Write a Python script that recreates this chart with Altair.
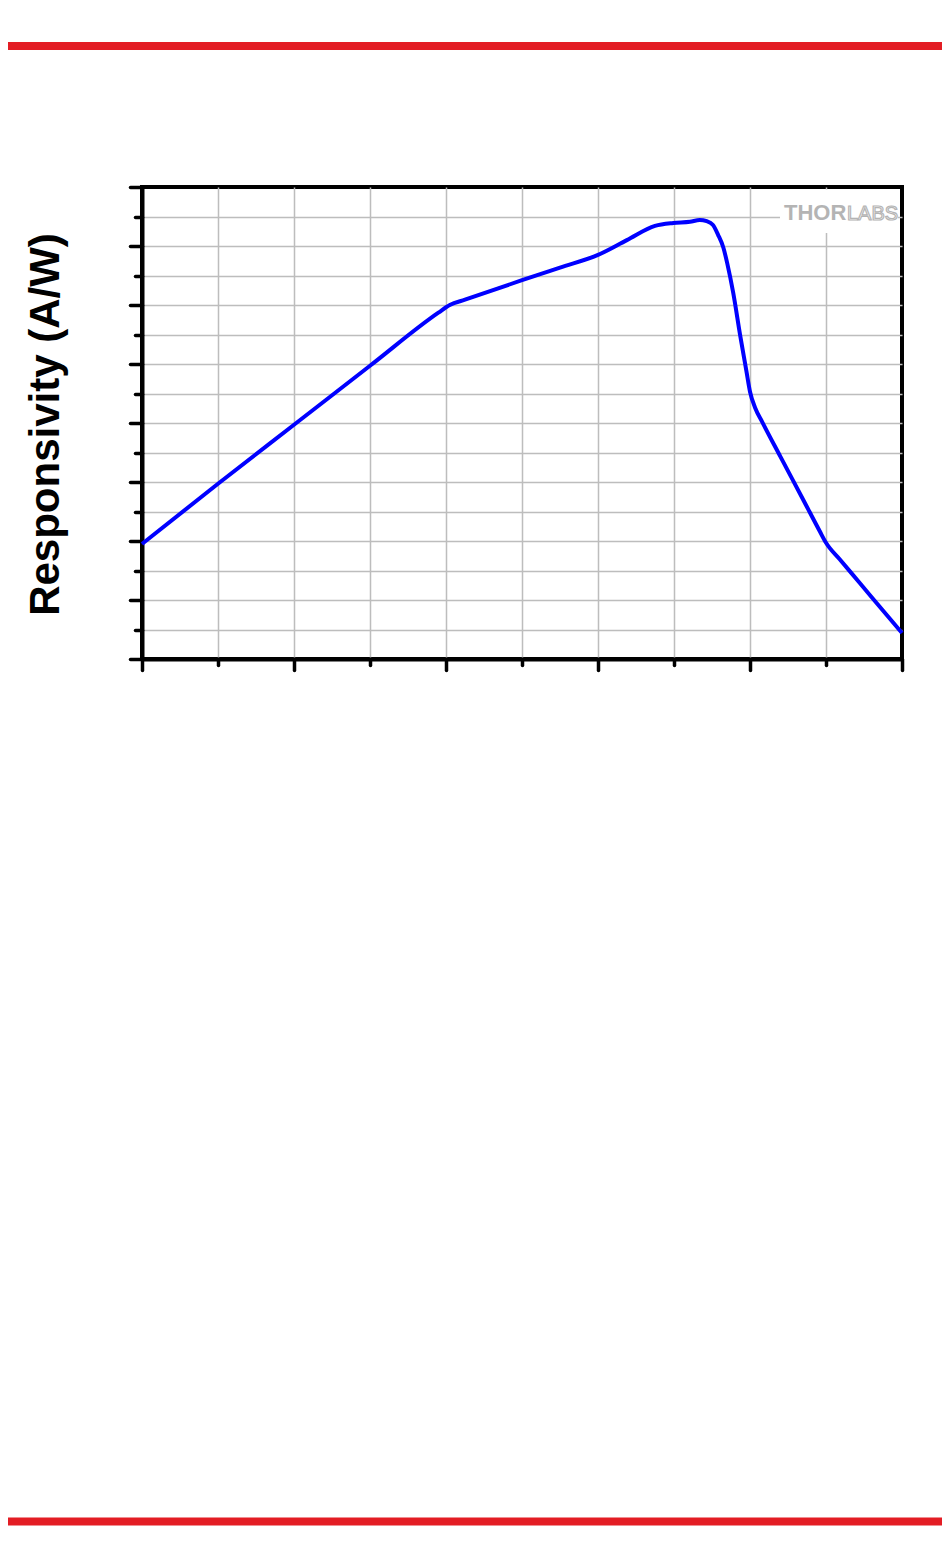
import altair as alt
import pandas as pd

# ---- data ----
wavelength_nm = [200, 300, 400, 500, 590, 605, 625, 700, 750, 800, 838, 875, 899, 921,
                 934, 943, 951, 958, 965, 970, 978, 987, 995, 1000, 1007, 1016, 1040,
                 1070, 1092, 1100, 1118, 1145, 1171, 1200]
responsivity_aw = [0.195, 0.297, 0.397, 0.497, 0.587, 0.600, 0.609, 0.642, 0.6635, 0.685, 0.710,
                   0.734, 0.739, 0.741, 0.744, 0.742, 0.736, 0.719, 0.697, 0.671,
                   0.620, 0.549, 0.490, 0.453, 0.425, 0.402, 0.343, 0.270, 0.216, 0.197,
                   0.169, 0.128, 0.088, 0.044]
x_ticks = list(range(200, 1201, 100))
y_ticks = [round(i * 0.05, 2) for i in range(17)]
y_title = "Responsivity (A/W)"
logo_bold = "THOR"
logo_outline = "LABS"

df = pd.DataFrame({"wavelength": wavelength_nm, "responsivity": responsivity_aw})
one = pd.DataFrame({"k": [0]})

W, H = 760, 472

x_axis = alt.Axis(
    values=x_ticks, labels=False, title=None,
    grid=True, gridColor="#bdbdbd", gridWidth=1.5,
    gridOpacity={"condition": {"test": "datum.value >= 1200 || datum.value <= 200", "value": 0}, "value": 1},
    tickSize={"condition": {"test": "datum.value % 200 === 0", "value": 11}, "value": 6},
    tickWidth=3.5, tickColor="black", tickCap="round",
    domainColor="black", domainWidth=4,
)
y_axis = alt.Axis(
    values=y_ticks, labels=False, title=y_title,
    titleFont="Liberation Sans", titleFontSize=42, titleFontWeight="bold", titleColor="black",
    titleAngle=270, titleX=-84, titleY=237, titleAlign="center", titleBaseline="alphabetic",
    grid=True, gridColor="#bdbdbd", gridWidth=1.5,
    gridOpacity={"condition": {"test": "datum.value >= 0.79 || datum.value <= 0.001", "value": 0}, "value": 1},
    tickSize={"condition": {"test": "abs(datum.value*10 - round(datum.value*10)) < 0.001", "value": 12}, "value": 7},
    tickWidth=3.5, tickColor="black", tickCap="round",
    domainColor="black", domainWidth=4,
)

mask = alt.Chart(one).mark_rect(color="white").encode(
    x=alt.value(638), x2=alt.value(756), y=alt.value(2.5), y2=alt.value(46)
)

line = alt.Chart(df).mark_line(color="#0000ff", strokeWidth=4, interpolate="monotone").encode(
    x=alt.X("wavelength:Q", scale=alt.Scale(domain=[200, 1200], nice=False, zero=False), axis=x_axis),
    y=alt.Y("responsivity:Q", scale=alt.Scale(domain=[0, 0.8], nice=False, zero=True), axis=y_axis),
)

thor = alt.Chart(one).mark_text(
    font="Liberation Sans", fontSize=22, fontWeight="bold", color="#b4b4b4",
    align="left", baseline="alphabetic"
).encode(x=alt.value(642), y=alt.value(33), text=alt.value(logo_bold))

labs = alt.Chart(one).mark_text(
    font="Liberation Sans", fontSize=20, fontWeight="normal", fill="white",
    stroke="#b4b4b4", strokeWidth=1.2, align="left", baseline="alphabetic"
).encode(x=alt.value(705), y=alt.value(33), text=alt.value(logo_outline))

top_bar = alt.Chart(one).mark_rule(color="#e31d24", strokeWidth=8).encode(
    x=alt.value(-134), x2=alt.value(800), y=alt.value(-141)
)
bottom_bar = alt.Chart(one).mark_rule(color="#e31d24", strokeWidth=8).encode(
    x=alt.value(-134), x2=alt.value(800), y=alt.value(1334.5)
)

chart = alt.layer(mask, line, thor, labs, top_bar, bottom_bar).properties(
    width=W, height=H,
    autosize=alt.AutoSizeParams(type="none"),
    padding={"left": 134, "top": 179, "right": 40, "bottom": 880},
).configure_view(stroke="black", strokeWidth=4)

chart.save("out.html", embed_options={"renderer": "svg", "actions": False})
